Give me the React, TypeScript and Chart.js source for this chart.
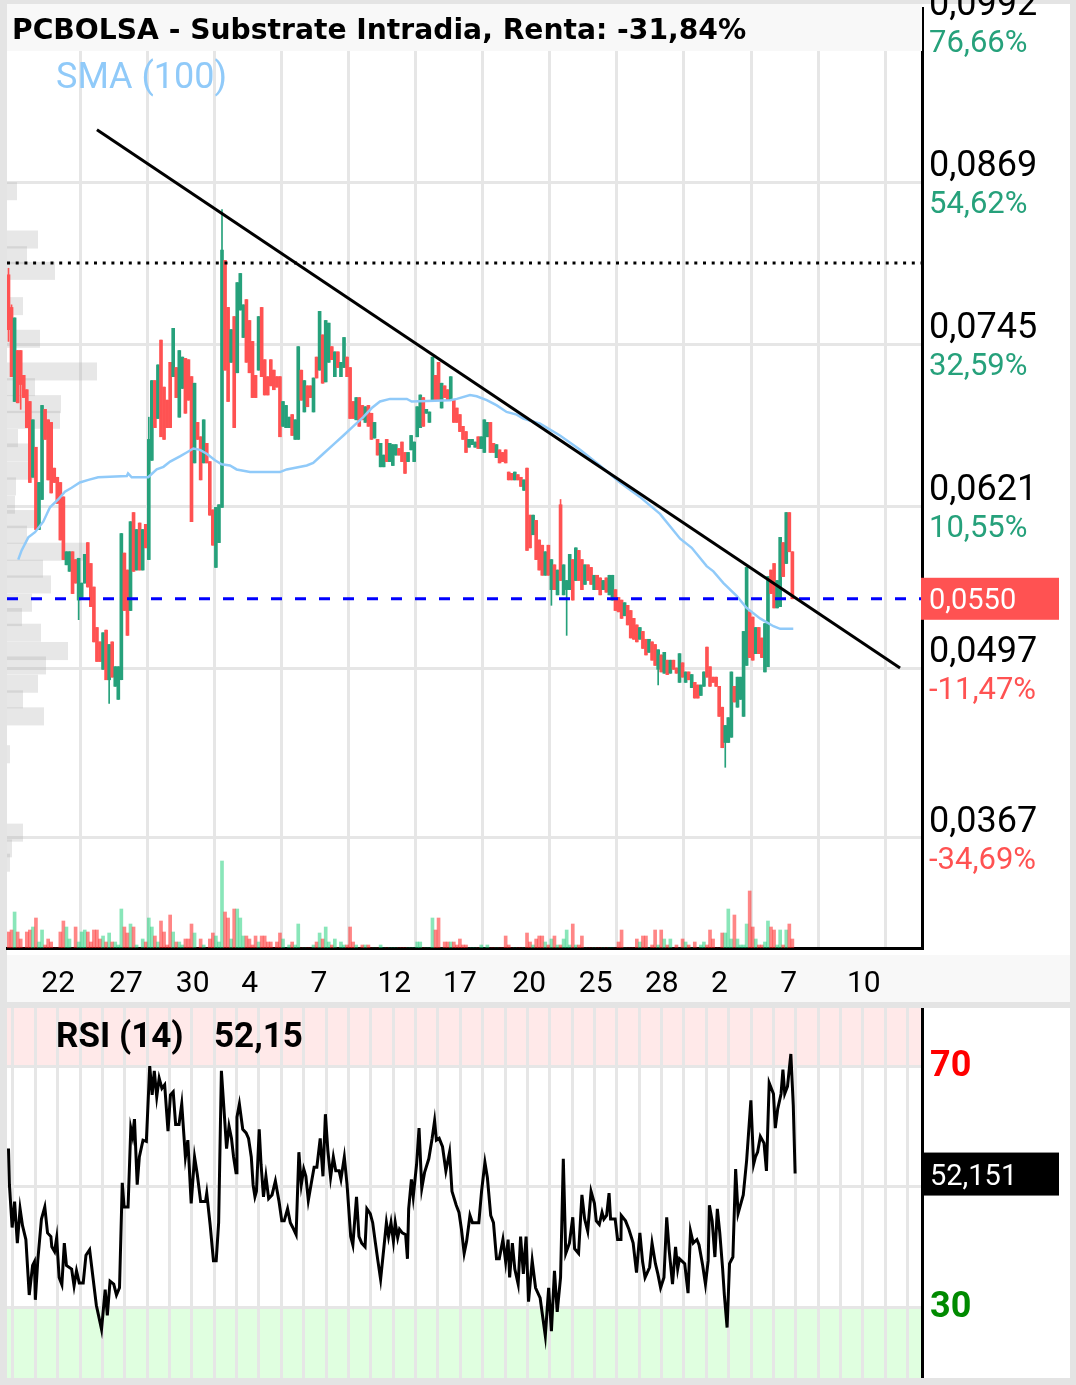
import { useEffect, useRef } from 'react';
import { Chart, registerables } from 'chart.js';

Chart.register(...registerables);

// ---------------- text ----------------
const TITLE = 'PCBOLSA - Substrate Intradia, Renta: -31,84%';
const SMA_LABEL = 'SMA (100)';
const RSI_LABEL = 'RSI (14)';
const RSI_VALUE_LABEL = '52,15';
const RSI_TAG = '52,151';
const RSI_LAST = 52.151;
const LAST_PRICE = 0.055;
const LAST_PRICE_LABEL = '0,0550';
const RESISTANCE = 0.0807;

// ---------------- price axis ----------------
const PRICE_TICKS = [0.0367, 0.0497, 0.0621, 0.0745, 0.0869, 0.0992];
const PRICE_LABELS = ['0,0367', '0,0497', '0,0621', '0,0745', '0,0869', '0,0992'];
const PCT_LABELS = ['-34,69%', '-11,47%', '10,55%', '32,59%', '54,62%', '76,66%'];

// ---------------- date axis ----------------
const DATE_LABELS = ['22', '27', '30', '4', '7', '12', '17', '20', '25', '28', '2', '7', '10'];
const DATE_POS = [16.3, 38.5, 60.4, 79.1, 101.8, 126.5, 148.0, 170.7, 192.5, 214.2, 233.1, 255.8, 280.4];

// ---------------- candles (index = bar number) ----------------
const OPEN = [
  0.0798,0.0773,0.0701,0.0740,0.0740,0.0721,0.0710,0.0701,0.0643,0.0666,
  0.0603,0.0626,0.0695,0.0687,0.0685,0.0650,0.0643,0.0639,0.0628,0.0576,
  0.0571,0.0586,0.0580,0.0549,0.0551,0.0562,0.0593,0.0577,0.0559,0.0528,
  0.0517,0.0496,0.0526,0.0488,0.0517,0.0483,0.0473,0.0488,0.0585,0.0572,
  0.0541,0.0616,0.0572,0.0608,0.0572,0.0607,0.0580,0.0656,0.0717,0.0688,
  0.0748,0.0712,0.0702,0.0731,0.0720,0.0727,0.0689,0.0711,0.0734,0.0733,
  0.0720,0.0654,0.0685,0.0674,0.0654,0.0669,0.0655,0.0618,0.0574,0.0593,
  0.0620,0.0809,0.0773,0.0731,0.0766,0.0723,0.0771,0.0750,0.0779,
  0.0763,0.0747,0.0721,0.0725,0.0773,0.0733,0.0720,0.0733,0.0725,0.0720,
  0.0720,0.0682,0.0681,0.0681,0.0691,0.0672,0.0672,0.0725,0.0693,0.0713,
  0.0713,0.0693,0.0735,0.0725,0.0752,0.0716,0.0731,0.0743,0.0720,0.0739,
  0.0720,0.0727,0.0735,0.0727,0.0701,0.0687,0.0704,0.0698,0.0685,0.0698,
  0.0692,0.0673,0.0672,0.0651,0.0651,0.0672,0.0655,0.0652,0.0660,0.0665,
  0.0670,0.0662,0.0655,0.0664,0.0655,0.0674,0.0681,0.0704,0.0692,0.0685,
  0.0702,0.0721,0.0731,0.0696,0.0713,0.0710,0.0702,0.0702,0.0696,0.0691,
  0.0682,0.0678,0.0666,0.0668,0.0666,0.0674,0.0665,0.0662,0.0674,0.0685,
  0.0669,0.0658,0.0664,0.0662,0.0664,0.0647,0.0646,0.0641,0.0645,0.0643,
  0.0633,0.0650,
  0.0614,0.0599,0.0610,0.0595,0.0591,0.0568,0.0591,0.0557,0.0576,0.0553,
  0.0622,0.0553,0.0557,0.0557,0.0580,0.0564,0.0587,0.0580,0.0561,0.0576,
  0.0574,0.0557,0.0568,0.0566,0.0557,0.0566,0.0553,0.0549,0.0557,0.0551,
  0.0549,0.0537,0.0545,0.0541,0.0535,0.0530,0.0519,0.0525,0.0519,0.0509,
  0.0517,0.0515,0.0496,0.0507,0.0493,0.0503,0.0493,0.0503,
  0.0497,0.0486,0.0501,0.0486,0.0494,0.0482,0.0486,0.0484,0.0476,0.0483,
  0.0513,0.0498,0.0490,0.0490,0.0483,0.0467,0.0440,
  0.0440,0.0444,0.0483,0.0467,0.0473,0.0460,
  0.0499,0.0540,0.0536,0.0508,0.0528,0.0520,0.0494,
  0.0498,0.0572,0.0577,0.0543,0.0544,0.0593,0.0577,0.0616,0.0586,
];
const CLOSE = [
  0.0756,0.0720,0.0765,0.0700,0.0714,0.0704,0.0681,0.0639,0.0687,0.0603,
  0.0639,0.0698,0.0672,0.0641,0.0631,0.0639,0.0623,0.0595,0.0580,0.0586,
  0.0586,0.0554,0.0562,0.0581,0.0562,0.0584,0.0559,0.0544,0.0517,0.0502,
  0.0502,0.0524,0.0488,0.0515,0.0490,0.0498,0.0498,0.0600,0.0541,0.0522,
  0.0609,0.0571,0.0603,0.0572,0.0603,0.0589,0.0672,0.0717,0.0681,0.0729,
  0.0674,0.0672,0.0681,0.0681,0.0757,0.0704,0.0740,0.0735,0.0692,0.0702,
  0.0609,0.0715,0.0672,0.0641,0.0687,0.0654,0.0614,0.0591,0.0620,0.0622,
  0.0817,0.0725,0.0701,0.0756,0.0681,0.0792,0.0799,0.0775,0.0731,
  0.0723,0.0704,0.0704,0.0766,0.0720,0.0706,0.0706,0.0713,0.0710,0.0712,
  0.0674,0.0701,0.0698,0.0689,0.0675,0.0687,0.0743,0.0702,0.0717,0.0697,
  0.0704,0.0719,0.0719,0.0770,0.0715,0.0763,0.0761,0.0733,0.0739,0.0727,
  0.0731,0.0750,0.0720,0.0688,0.0688,0.0704,0.0682,0.0687,0.0697,0.0682,
  0.0672,0.0685,0.0660,0.0669,0.0660,0.0655,0.0669,0.0668,0.0668,0.0660,
  0.0655,0.0646,0.0662,0.0675,0.0670,0.0697,0.0706,0.0682,0.0695,0.0693,
  0.0735,0.0702,0.0702,0.0715,0.0704,0.0702,0.0720,0.0685,0.0685,0.0678,
  0.0672,0.0662,0.0672,0.0672,0.0670,0.0665,0.0674,0.0687,0.0685,0.0662,
  0.0662,0.0668,0.0654,0.0655,0.0654,0.0641,0.0641,0.0647,0.0641,0.0636,
  0.0641,0.0587,
  0.0589,0.0614,0.0580,0.0572,0.0568,0.0586,0.0568,0.0580,0.0557,0.0572,
  0.0564,0.0576,0.0564,0.0584,0.0549,0.0589,0.0564,0.0557,0.0576,0.0564,
  0.0561,0.0568,0.0557,0.0553,0.0564,0.0555,0.0568,0.0568,0.0541,0.0540,
  0.0535,0.0547,0.0530,0.0520,0.0519,0.0517,0.0528,0.0512,0.0507,0.0519,
  0.0503,0.0499,0.0511,0.0494,0.0509,0.0492,0.0503,0.0496,
  0.0493,0.0508,0.0490,0.0494,0.0488,0.0492,0.0474,0.0474,0.0484,0.0494,
  0.0490,0.0483,0.0486,0.0483,0.0460,0.0436,0.0453,
  0.0459,0.0494,0.0471,0.0490,0.0490,0.0525,
  0.0574,0.0505,0.0503,0.0528,0.0508,0.0505,0.0531,
  0.0567,0.0554,0.0543,0.0564,0.0597,0.0567,0.0616,0.0586,0.0550,
];
// [bar, price] for wicks reaching beyond the body
const WICK_HIGH: [number, number][] = [[0, 0.0803], [1, 0.0775], [46, 0.0689], [70, 0.0848], [181, 0.0626]];
const WICK_LOW: [number, number][] = [[0, 0.0747], [4, 0.0695], [23, 0.0534], [33, 0.0470], [178, 0.0545], [183, 0.0522], [213, 0.0484], [235, 0.0421]];

const VOLUME = [
  16,18,36,16,9,0,16,18,21,30,
  6,18,3,9,6,0,0,16,27,21,
  9,0,21,6,16,18,16,6,18,18,
  9,12,6,15,6,6,3,39,21,15,
  24,21,3,0,9,6,30,21,12,6,
  27,16,3,33,16,6,6,3,9,9,
  24,15,0,9,3,0,9,15,12,6,
  87,36,30,9,39,39,30,12,12,9,
  3,12,6,12,12,6,6,0,6,15,
  9,0,3,6,3,24,0,0,0,0,
  3,6,15,9,21,6,3,9,0,6,
  3,3,21,6,3,0,3,3,3,0,
  0,0,3,0,0,0,0,0,0,0,
  0,0,0,0,6,6,0,0,0,30,
  18,30,0,6,6,6,6,3,9,3,
  3,0,0,0,0,3,0,3,0,0,
  0,0,0,12,3,0,0,0,0,0,
  15,6,3,9,12,12,6,3,9,12,
  3,3,9,18,3,24,3,3,12,0,
  0,0,0,0,0,0,0,0,0,0,
  6,18,0,0,0,0,9,6,12,12,
  0,3,18,3,18,9,3,9,0,3,
  0,9,6,3,0,6,0,3,6,3,
  18,9,0,0,15,15,39,9,33,9,
  3,3,24,57,21,9,3,3,6,27,
  21,18,3,18,3,18,24,9,
];

// ---------------- SMA(100) ----------------
const SMA_X = [3.2,4.3,6.5,8.7,11.4,13.6,16.3,18.5,20.7,23.4,26.2,29.4,38.8,39.2,40.4,45.8,48.6,50.8,53.0,56.2,58.4,60.6,62.8,65.0,67.7,69.9,72.6,74.8,79.2,89.0,91.2,97.8,99.9,103.2,106.5,109.8,113.0,116.3,119.1,121.8,125.1,130.6,132.2,144.8,147.0,151.3,153.5,156.8,160.1,163.3,166.6,168.8,174.3,180.8,187.4,193.9,200.5,207.0,213.6,220.2,224.0,228.9,231.1,234.4,238.8,242.0,246.4,250.8,253.0,257.3];
const SMA_Y = [0.0580,0.0587,0.0597,0.0601,0.0609,0.0620,0.0626,0.0632,0.0635,0.0639,0.0641,0.0643,0.0644,0.0646,0.0643,0.0643,0.0649,0.0651,0.0655,0.0659,0.0662,0.0665,0.0664,0.0661,0.0656,0.0653,0.0652,0.0649,0.0647,0.0647,0.0649,0.0652,0.0654,0.0661,0.0668,0.0675,0.0682,0.0689,0.0696,0.0701,0.0703,0.0703,0.0701,0.0702,0.0703,0.0706,0.0705,0.0702,0.0698,0.0693,0.0691,0.0688,0.0684,0.0675,0.0664,0.0652,0.0639,0.0628,0.0615,0.0596,0.0589,0.0575,0.0571,0.0562,0.0552,0.0543,0.0535,0.0529,0.0527,0.0527];

// ---------------- trend line ----------------
const TREND_X = [29.0, 292.3];
const TREND_Y = [0.0909, 0.0497];

// ---------------- volume profile ----------------
const PROFILE_PRICE = [0.0862,0.0825,0.0813,0.0801,0.0774,0.0749,0.0724,0.0712,0.0699,0.0687,0.0673,0.0662,0.0648,0.0636,0.0622,0.0611,0.0599,0.0586,0.0573,0.0561,0.0547,0.0536,0.0524,0.0510,0.0499,0.0485,0.0473,0.0460,0.0431,0.0371,0.0359,0.0348];
const PROFILE_VOL = [10,31,20,48,16,33,90,28,54,53,11,21,30,9,8,31,20,80,36,44,25,15,34,61,39,31,16,37,3,16,5,3];

// ---------------- RSI(14) ----------------
const RSI_X = [
  0,0.3,1.2,2.0,2.9,3.8,4.6,5.7,6.8,7.9,
  8.5,8.8,9.6,10.8,11.9,12.8,13.9,14.2,15.1,15.8,
  16.6,17.5,18.3,19.0,20.7,21.5,22.3,23.2,24.5,25.4,
  26.6,27.7,28.8,30.0,30.5,31.7,32.4,33.3,34.5,35.4,
  36.4,37.3,37.9,39.2,40.1,40.7,41.3,42.2,42.9,44.1,
  45.2,46.3,47.1,47.8,48.6,49.4,50.3,51.2,52.3,53.1,
  54.0,54.8,55.9,56.8,58.0,58.8,59.9,61.0,61.9,63.0,
  64.6,65.0,66.1,67.2,68.1,68.9,69.8,70.6,71.5,72.3,
  73.1,73.8,74.6,74.9,75.7,76.8,77.9,78.7,79.6,80.2,
  80.8,81.3,82.2,82.8,83.6,84.4,85.3,86.4,87.5,88.7,
  89.6,90.4,91.5,92.4,93.2,94.3,95.2,96.0,96.8,97.5,
  98.3,99.4,100.2,101.1,102.2,103.1,103.9,104.7,105.6,106.5,
  107.3,108.4,109.0,110.1,111.0,112.2,112.9,114.1,114.9,115.8,
  116.9,117.5,118.6,119.4,120.3,121.1,122.0,123.1,123.9,124.6,
  125.4,126.2,126.8,127.6,128.2,129.1,130.2,130.8,131.2,132.1,
  132.7,133.8,134.6,135.5,136.4,137.8,138.9,139.7,140.3,141.2,
  142.3,143.4,144.6,145.4,146.8,147.7,148.5,149.4,150.2,151.3,
  152.1,154.2,155.1,156.2,157.0,158.1,159.0,160.0,160.9,162.1,
  163.0,163.8,164.3,165.2,166.0,167.1,167.9,168.8,169.7,170.5,
  171.7,172.8,174.3,176.0,177.1,178.0,179.0,179.9,181.0,181.9,
  182.7,183.9,185.0,185.6,186.9,188.0,188.9,189.9,191.0,192.1,
  192.7,193.7,194.6,195.2,196.1,196.9,197.4,198.9,199.7,200.8,
  200.9,202.3,203.4,204.8,205.9,207.0,207.9,208.7,210.2,211.0,
  212.1,212.9,213.8,214.9,215.8,216.6,217.7,218.7,219.4,220.0,
  221.7,222.8,223.6,224.5,225.7,226.4,227.6,228.5,229.4,229.8,
  230.7,231.6,232.4,233.2,234.1,234.7,235.6,236.4,237.5,238.4,
  239.2,240.9,242.0,242.6,243.4,244.3,244.9,245.6,246.5,247.7,
  248.5,248.8,249.4,250.8,251.4,252.2,253.3,253.9,254.5,255.4,
  256.5,257.3,257.9,
];
const RSI_Y = [
  56.3,50.3,43.2,47.5,40.6,46.3,43.5,41.2,32.0,36.9,
  37.5,31.2,37.7,44.6,46.6,42.3,41.7,40.0,39.2,41.5,
  34.9,33.7,40.6,36.9,36.3,33.5,36.0,34.0,34.0,38.6,
  39.5,34.9,30.3,27.5,26.3,32.9,28.6,34.3,33.8,32.0,
  33.2,50.6,46.6,46.6,59.7,58.3,61.2,50.3,54.9,57.7,
  57.5,70.0,65.2,69.2,64.9,68.0,66.3,66.9,59.2,65.2,
  65.7,60.3,60.3,63.7,54.9,57.7,47.2,54.9,52.0,47.5,
  47.5,48.9,43.7,37.7,37.7,44.0,69.2,63.2,56.3,60.0,
  58.0,54.9,52.3,61.5,63.7,59.5,58.9,58.0,54.9,50.3,
  48.3,49.2,59.5,53.7,48.3,51.7,48.0,48.6,50.9,47.5,
  44.3,44.3,46.3,44.0,43.2,42.0,55.7,50.3,52.9,51.7,
  47.7,50.9,53.2,53.2,58.0,51.7,62.0,56.0,51.5,54.9,
  52.6,52.6,51.2,54.9,50.3,41.7,40.3,48.3,41.7,40.6,
  40.0,46.3,45.5,44.0,40.6,37.7,34.6,40.0,44.0,41.7,
  44.0,40.9,44.0,41.5,42.9,42.3,42.0,38.0,46.3,51.2,
  48.3,53.7,59.7,49.7,52.3,54.6,58.0,60.9,57.7,58.0,
  56.6,52.6,55.7,49.2,46.9,45.7,42.9,38.9,40.9,45.2,
  44.0,44.0,49.2,54.0,51.5,45.2,44.0,38.0,38.0,41.2,
  37.5,41.2,34.9,40.6,36.3,33.8,41.7,35.5,41.7,30.9,
  37.7,33.2,31.5,25.2,33.2,26.0,36.0,29.2,34.9,54.6,
  38.9,40.6,44.9,39.7,38.9,48.6,44.6,42.6,49.2,47.2,
  44.3,43.7,45.7,44.6,45.2,48.9,44.6,44.6,41.2,41.2,
  45.2,44.3,42.9,40.6,35.7,42.3,37.5,34.9,36.6,40.6,
  37.2,35.5,33.2,34.9,44.9,39.5,33.8,40.0,36.3,38.0,
  37.2,32.3,42.6,40.6,41.2,40.3,36.9,33.8,37.7,46.9,
  44.3,38.3,46.3,42.3,36.6,32.0,26.6,37.2,38.3,52.9,
  45.5,48.6,54.3,58.6,64.3,53.7,54.9,55.7,58.3,57.2,
  52.6,57.5,67.2,65.4,59.7,62.9,65.4,69.4,65.4,66.6,
  72.0,63.4,52.15,
];
const RSI_LEVELS = [30, 50, 70];

// ---------------- layout / style ----------------
const W = 1076;
const MAIN_H = 1002;
const RSI_TOP = 1008;
const RSI_H = 370;
const PAD_LEFT = 7;
const PAD_RIGHT = 154;
const X_MIN = -0.49;
const X_MAX = 299.5;
const PRICE_MIN = 0.02827;
const PRICE_MAX = 0.10022;
const VOL_MAX = 940;
const PROFILE_MAX = 915;
const PROFILE_BAND = 0.00138;
const RSI_MIN = 18.22;
const RSI_MAX = 79.63;
const MAIN_GRID = Array.from({ length: 13 }, (_, k) => 23.45 + 22 * k);
const RSI_GRID = Array.from({ length: 41 }, (_, k) => 1.45 + (22 / 3) * k);

const GREEN = '#26a17b';
const RED = '#ff5252';
const GRID = '#e6e6e6';
const SMA_COLOR = '#90caf9';

function mainConfig(): any {
  const idx = OPEN.map((_, i) => i);
  const hi = OPEN.map((o, i) => Math.max(o, CLOSE[i]));
  const lo = OPEN.map((o, i) => Math.min(o, CLOSE[i]));
  WICK_HIGH.forEach(([i, v]) => { hi[i] = v; });
  WICK_LOW.forEach(([i, v]) => { lo[i] = v; });
  const up = idx.map((i) => CLOSE[i] >= OPEN[i]);
  const cColor = up.map((u) => (u ? GREEN : RED));
  const vColor = up.map((u) => (u ? 'rgba(20,205,115,0.5)' : 'rgba(255,35,35,0.55)'));

  const profilePlugin = {
    id: 'profile',
    beforeDatasetsDraw(chart: any) {
      const { ctx, chartArea, scales } = chart;
      ctx.save();
      ctx.beginPath();
      ctx.rect(chartArea.left, chartArea.top, chartArea.right - chartArea.left, chartArea.bottom - chartArea.top);
      ctx.clip();
      ctx.fillStyle = 'rgba(170,170,170,0.28)';
      PROFILE_PRICE.forEach((p, k) => {
        const y1 = scales.y.getPixelForValue(p + PROFILE_BAND / 2);
        const y2 = scales.y.getPixelForValue(p - PROFILE_BAND / 2);
        const x2 = scales.xp.getPixelForValue(PROFILE_VOL[k]);
        ctx.fillRect(chartArea.left, y1, x2 - chartArea.left, y2 - y1);
      });
      ctx.restore();
    },
  };

  const labelPlugin = {
    id: 'labels',
    afterDraw(chart: any) {
      const { ctx, chartArea, scales } = chart;
      const ys = scales.y;
      const xs = scales.x;
      ctx.save();
      ctx.textAlign = 'left';
      ctx.textBaseline = 'alphabetic';
      PRICE_TICKS.forEach((v, k) => {
        const y = ys.getPixelForValue(v);
        ctx.font = '36px Roboto';
        ctx.fillStyle = '#000';
        ctx.fillText(PRICE_LABELS[k], chartArea.right + 7, y - 6);
        ctx.font = '31px Roboto';
        ctx.fillStyle = PCT_LABELS[k].startsWith('-') ? RED : GREEN;
        ctx.fillText(PCT_LABELS[k], chartArea.right + 7, y + 31);
      });
      const yl = ys.getPixelForValue(LAST_PRICE);
      ctx.fillStyle = RED;
      ctx.fillRect(chartArea.right - 1, yl - 21, 138, 42);
      ctx.fillStyle = '#fff';
      ctx.font = '29px Roboto';
      ctx.fillText(LAST_PRICE_LABEL, chartArea.right + 7, yl + 10);
      ctx.fillStyle = '#000';
      ctx.font = '30px Roboto';
      ctx.textAlign = 'center';
      DATE_LABELS.forEach((t, k) => {
        ctx.fillText(t, xs.getPixelForValue(DATE_POS[k]), chartArea.bottom + 44);
      });
      ctx.fillStyle = '#f8f8f8';
      ctx.fillRect(chartArea.left, 4, chartArea.right - chartArea.left, 47);
      ctx.fillStyle = '#000';
      ctx.textAlign = 'left';
      ctx.font = 'bold 28.2px "DejaVu Sans"';
      ctx.fillText(TITLE, 12, 39);
      ctx.fillStyle = SMA_COLOR;
      ctx.font = '36px Roboto';
      ctx.fillText(SMA_LABEL, 56, 88);
      ctx.restore();
    },
  };

  return {
    type: 'bar',
    data: {
      datasets: [
        { type: 'line', data: TREND_X.map((x, k) => ({ x, y: TREND_Y[k] })), borderColor: '#000', borderWidth: 3, pointRadius: 0, xAxisID: 'x', yAxisID: 'y', order: 0 },
        { type: 'line', data: [{ x: X_MIN, y: LAST_PRICE }, { x: X_MAX, y: LAST_PRICE }], borderColor: '#0000ff', borderWidth: 3, borderDash: [11, 13], pointRadius: 0, xAxisID: 'x', yAxisID: 'y', order: 1 },
        { type: 'line', data: [{ x: X_MIN, y: RESISTANCE }, { x: X_MAX, y: RESISTANCE }], borderColor: '#000', borderWidth: 3, borderDash: [3, 5.7], pointRadius: 0, xAxisID: 'x', yAxisID: 'y', order: 1 },
        { type: 'line', data: SMA_X.map((x, k) => ({ x, y: SMA_Y[k] })), borderColor: SMA_COLOR, borderWidth: 2.5, pointRadius: 0, xAxisID: 'x', yAxisID: 'y', order: 2 },
        { type: 'bar', data: idx.map((i) => ({ x: i, y: [OPEN[i], CLOSE[i]] })), backgroundColor: cColor, barThickness: 3, minBarLength: 1, grouped: false, xAxisID: 'x', yAxisID: 'y', order: 3 },
        { type: 'bar', data: idx.map((i) => ({ x: i, y: [lo[i], hi[i]] })), backgroundColor: cColor, barThickness: 1, grouped: false, xAxisID: 'x', yAxisID: 'y', order: 4 },
        { type: 'bar', data: idx.map((i) => ({ x: i, y: VOLUME[i] })), backgroundColor: vColor, barThickness: 3, grouped: false, xAxisID: 'x', yAxisID: 'yv', order: 5 },
      ],
    },
    options: {
      responsive: false,
      animation: false,
      events: [],
      layout: { padding: { left: PAD_LEFT, right: PAD_RIGHT, top: 8, bottom: 54 } },
      plugins: { legend: { display: false }, tooltip: { enabled: false } },
      scales: {
        x: {
          type: 'linear', min: X_MIN, max: X_MAX, offset: false,
          grid: { color: GRID, lineWidth: 3, drawTicks: false, offset: false },
          border: { display: true, color: '#000', width: 3 },
          ticks: { display: false },
          afterBuildTicks: (s: any) => { s.ticks = MAIN_GRID.map((v) => ({ value: v })); },
        },
        y: {
          type: 'linear', position: 'right', min: PRICE_MIN, max: PRICE_MAX, offset: false,
          grid: { color: GRID, lineWidth: 3, drawTicks: false },
          border: { display: true, color: '#000', width: 3 },
          ticks: { display: false },
          afterBuildTicks: (s: any) => { s.ticks = PRICE_TICKS.map((v) => ({ value: v })); },
        },
        yv: { type: 'linear', display: false, min: 0, max: VOL_MAX, axis: 'y', offset: false },
        xp: { type: 'linear', display: false, min: 0, max: PROFILE_MAX, axis: 'x', offset: false, grid: { offset: false } },
      },
    },
    plugins: [profilePlugin, labelPlugin],
  };
}

function rsiConfig(): any {
  const bandPlugin = {
    id: 'bands',
    beforeDraw(chart: any) {
      const { ctx, chartArea, scales } = chart;
      const y70 = scales.y.getPixelForValue(70);
      const y30 = scales.y.getPixelForValue(30);
      ctx.save();
      ctx.fillStyle = '#ffe9e9';
      ctx.fillRect(chartArea.left, chartArea.top, chartArea.right - chartArea.left, y70 - chartArea.top);
      ctx.fillStyle = '#e0ffe0';
      ctx.fillRect(chartArea.left, y30, chartArea.right - chartArea.left, chartArea.bottom - y30);
      ctx.restore();
    },
  };
  const rsiLabels = {
    id: 'rsiLabels',
    afterDraw(chart: any) {
      const { ctx, chartArea, scales } = chart;
      ctx.save();
      ctx.textAlign = 'left';
      ctx.textBaseline = 'alphabetic';
      ctx.font = 'bold 36px Roboto';
      ctx.fillStyle = '#ff0000';
      ctx.fillText('70', chartArea.right + 8, scales.y.getPixelForValue(70) + 10);
      ctx.fillStyle = '#008a00';
      ctx.fillText('30', chartArea.right + 8, scales.y.getPixelForValue(30) + 10);
      const y = scales.y.getPixelForValue(RSI_LAST);
      ctx.fillStyle = '#000';
      ctx.fillRect(chartArea.right - 1, y - 21, 138, 43);
      ctx.fillStyle = '#fff';
      ctx.font = '29px Roboto';
      ctx.fillText(RSI_TAG, chartArea.right + 8, y + 11);
      ctx.fillStyle = '#000';
      ctx.font = 'bold 35px Roboto';
      ctx.fillText(RSI_LABEL, 56, 39);
      ctx.fillText(RSI_VALUE_LABEL, 214, 39);
      ctx.restore();
    },
  };
  return {
    type: 'line',
    data: {
      datasets: [
        { data: RSI_X.map((x, k) => ({ x, y: RSI_Y[k] })), borderColor: '#000', borderWidth: 3, pointRadius: 0, tension: 0 },
      ],
    },
    options: {
      responsive: false,
      animation: false,
      events: [],
      layout: { padding: { left: PAD_LEFT, right: PAD_RIGHT, top: 0, bottom: 0 } },
      plugins: { legend: { display: false }, tooltip: { enabled: false } },
      scales: {
        x: {
          type: 'linear', min: X_MIN, max: X_MAX, offset: false,
          grid: { color: GRID, lineWidth: 3, drawTicks: false },
          border: { display: false },
          ticks: { display: false },
          afterBuildTicks: (s: any) => { s.ticks = RSI_GRID.map((v) => ({ value: v })); },
        },
        y: {
          type: 'linear', position: 'right', min: RSI_MIN, max: RSI_MAX,
          grid: { color: GRID, lineWidth: 3, drawTicks: false },
          border: { display: true, color: '#000', width: 3 },
          ticks: { display: false },
          afterBuildTicks: (s: any) => { s.ticks = RSI_LEVELS.map((v) => ({ value: v })); },
        },
      },
    },
    plugins: [bandPlugin, rsiLabels],
  };
}

export default function App() {
  const mainRef = useRef<HTMLCanvasElement>(null);
  const rsiRef = useRef<HTMLCanvasElement>(null);
  useEffect(() => {
    const main = new Chart(mainRef.current as HTMLCanvasElement, mainConfig());
    const rsi = new Chart(rsiRef.current as HTMLCanvasElement, rsiConfig());
    return () => {
      main.destroy();
      rsi.destroy();
    };
  }, []);
  return (
    <div style={{ position: 'absolute', left: 0, top: 0, width: W, height: 1385, background: '#e4e4e4', overflow: 'hidden' }}>
      <div style={{ position: 'absolute', left: 7, top: 4, width: 1063, height: 951, background: '#ffffff' }} />
      <div style={{ position: 'absolute', left: 7, top: 955, width: 1063, height: 47, background: '#f8f8f8' }} />
      <div style={{ position: 'absolute', left: 7, top: RSI_TOP, width: 1063, height: RSI_H, background: '#ffffff' }} />
      <canvas ref={mainRef} width={W} height={MAIN_H} style={{ position: 'absolute', left: 0, top: 0, width: W, height: MAIN_H }} />
      <canvas ref={rsiRef} width={W} height={RSI_H} style={{ position: 'absolute', left: 0, top: RSI_TOP, width: W, height: RSI_H }} />
    </div>
  );
}
